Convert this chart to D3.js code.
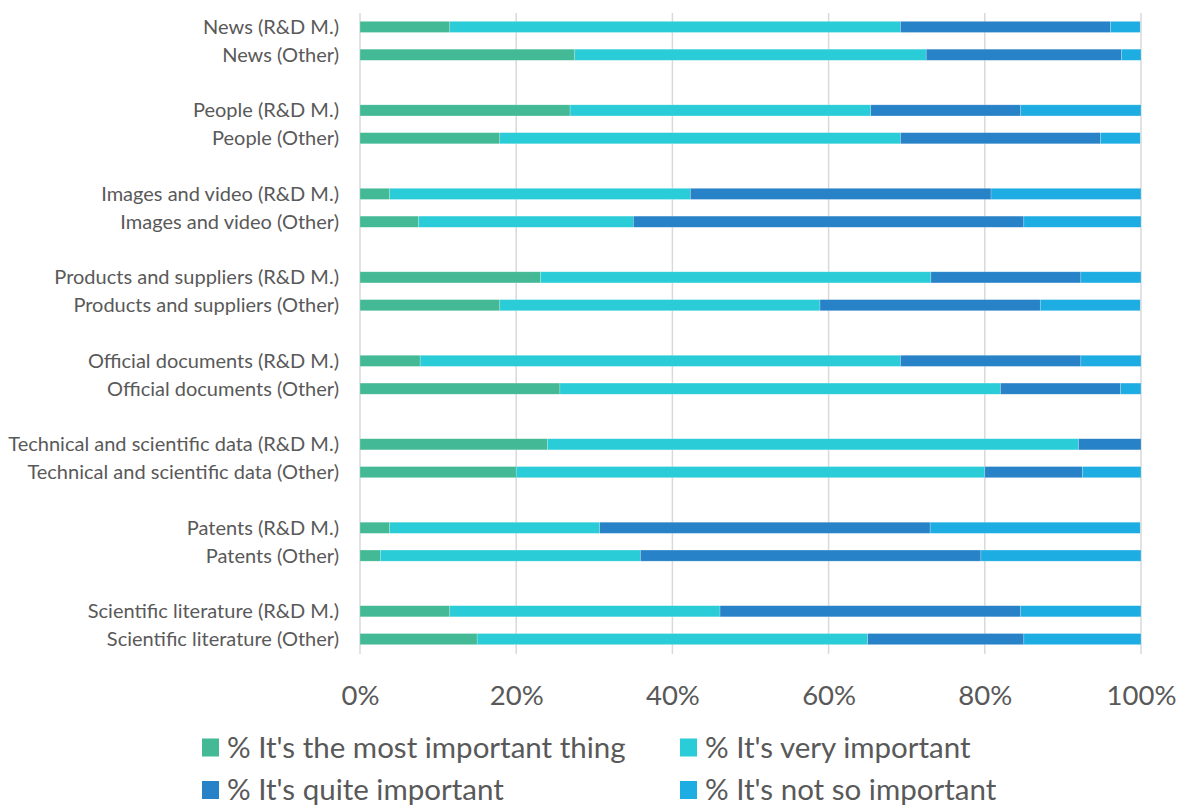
<!DOCTYPE html>
<html>
<head>
<meta charset="utf-8">
<script src="https://cdn.jsdelivr.net/npm/d3@7"></script>
<style>
  html, body { margin: 0; padding: 0; background: #ffffff; }
  svg { display: block; }
  text { font-family: Lato, "Open Sans", sans-serif; fill: #595959; }
</style>
</head>
<body>
<svg id="chart" width="1184" height="805"></svg>
<script>
// Row labels, top to bottom; a blank slot separates each pair.
const categories = [
  "News (R&D M.)", "News (Other)",
  "People (R&D M.)", "People (Other)",
  "Images and video (R&D M.)", "Images and video (Other)",
  "Products and suppliers (R&D M.)", "Products and suppliers (Other)",
  "Official documents (R&D M.)", "Official documents (Other)",
  "Technical and scientific data (R&D M.)", "Technical and scientific data (Other)",
  "Patents (R&D M.)", "Patents (Other)",
  "Scientific literature (R&D M.)", "Scientific literature (Other)"
];

// Share of respondents (%) per answer, in the same row order.
const mostImportant  = [11.5, 27.5, 26.9, 17.9,  3.8,  7.5, 23.1, 17.9,  7.7, 25.6, 24.0, 20.0,  3.8,  2.6, 11.5, 15.0];
const veryImportant  = [57.7, 45.0, 38.5, 51.3, 38.5, 27.5, 50.0, 41.0, 61.5, 56.4, 68.0, 60.0, 26.9, 33.3, 34.6, 50.0];
const quiteImportant = [26.9, 25.0, 19.2, 25.6, 38.5, 50.0, 19.2, 28.2, 23.1, 15.4,  8.0, 12.5, 42.3, 43.6, 38.5, 20.0];
const notImportant   = [ 3.8,  2.5, 15.4,  5.1, 19.2, 15.0,  7.7, 12.8,  7.7,  2.6,  0.0,  7.5, 26.9, 20.5, 15.4, 15.0];

const seriesNames = [
  "% It's the most important thing",
  "% It's very important",
  "% It's quite important",
  "% It's not so important"
];
const seriesColors = ["#43b995", "#29ccd7", "#2782c7", "#1eade3"];
const tickValues = [0, 20, 40, 60, 80, 100];

const svg = d3.select("#chart");
const plotLeft = 360, plotRight = 1141, plotTop = 13, plotBottom = 653;

const keys = ["a", "b", "c", "d"];
const rows = categories.map((name, i) => ({
  name,
  slot: Math.floor(i / 2) * 3 + (i % 2),
  a: mostImportant[i], b: veryImportant[i], c: quiteImportant[i], d: notImportant[i]
}));

const x = d3.scaleLinear().domain([0, 100]).range([plotLeft, plotRight]);
const y = d3.scaleBand()
  .domain(d3.range(23))
  .range([plotTop, plotBottom])
  .paddingInner(0.6)
  .paddingOuter(0.3);

// Vertical gridlines with short tick extensions below the plot.
svg.append("g")
  .selectAll("line")
  .data(tickValues)
  .join("line")
  .attr("x1", d => x(d)).attr("x2", d => x(d))
  .attr("y1", plotTop).attr("y2", plotBottom + 1)
  .attr("stroke", "#d9d9d9")
  .attr("stroke-width", 1.5);

// Stacked bars.
const stacked = d3.stack().keys(keys)(rows);
svg.append("g")
  .selectAll("g")
  .data(stacked)
  .join("g")
  .attr("fill", (d, i) => seriesColors[i])
  .selectAll("rect")
  .data(d => d.filter(p => p[1] - p[0] > 0))
  .join("rect")
  .attr("x", d => x(d[0]))
  .attr("width", d => x(d[1]) - x(d[0]))
  .attr("y", d => y(d.data.slot))
  .attr("height", y.bandwidth())
  .attr("stroke", "rgba(255,255,255,0.35)")
  .attr("stroke-width", 0.6);

// Row labels.
svg.append("g")
  .selectAll("text")
  .data(rows)
  .join("text")
  .attr("x", 339)
  .attr("y", d => y(d.slot) + y.bandwidth() / 2)
  .attr("dy", "0.35em")
  .attr("text-anchor", "end")
  .style("font-size", "20px")
  .text(d => d.name);

// Percentage axis.
const xAxis = d3.axisBottom(x)
  .tickValues(tickValues)
  .tickFormat(d => d + "%")
  .tickSize(0)
  .tickPadding(0);
const axisG = svg.append("g")
  .attr("transform", `translate(0, ${plotBottom})`)
  .call(xAxis);
axisG.select(".domain").remove();
axisG.selectAll("text")
  .attr("y", 52)
  .attr("dy", 0)
  .style("font-size", "27.5px")
  .style("font-family", "Lato, sans-serif")
  .attr("fill", "#595959");

// Legend in two columns.
const legendPos = [
  { x: 202, y: 747.5 }, { x: 680, y: 747.5 },
  { x: 202, y: 790 }, { x: 680, y: 790 }
];
const legend = svg.append("g")
  .selectAll("g")
  .data(seriesNames)
  .join("g")
  .attr("transform", (d, i) => `translate(${legendPos[i].x}, ${legendPos[i].y})`);
legend.append("rect")
  .attr("x", 0).attr("y", -9)
  .attr("width", 17).attr("height", 18)
  .attr("fill", (d, i) => seriesColors[i]);
legend.append("text")
  .attr("x", 25).attr("y", 0)
  .attr("dy", "0.35em")
  .style("font-size", "29.5px")
  .text(d => d);
</script>
</body>
</html>
